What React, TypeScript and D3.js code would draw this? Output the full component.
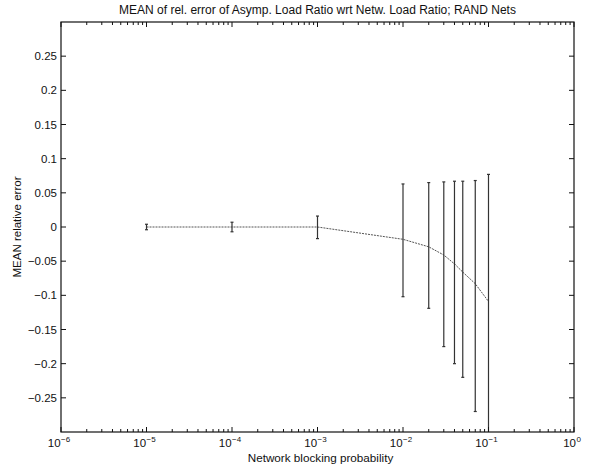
import React from "react";
import * as d3 from "d3";

const W = 589;
const H = 468;

const title = "MEAN of rel. error of Asymp. Load Ratio wrt Netw. Load Ratio; RAND Nets";
const xLabel = "Network blocking probability";
const yLabel = "MEAN relative error";

const xDomain = [1e-6, 1];
const yDomain = [-0.3, 0.3];
const xTickExponents = [-6, -5, -4, -3, -2, -1, 0];
const yTicks = [-0.25, -0.2, -0.15, -0.1, -0.05, 0, 0.05, 0.1, 0.15, 0.2, 0.25];
const yTickLabels = ["\u22120.25", "\u22120.2", "\u22120.15", "\u22120.1", "\u22120.05", "0", "0.05", "0.1", "0.15", "0.2", "0.25"];

const blocking = [1e-5, 1e-4, 1e-3, 1e-2, 2e-2, 3e-2, 4e-2, 5e-2, 7e-2, 1e-1];
const meanErr = [0, 0, 0, -0.018, -0.029, -0.041, -0.054, -0.066, -0.083, -0.109];
const upperErr = [0.004, 0.007, 0.016, 0.063, 0.065, 0.066, 0.067, 0.067, 0.068, 0.077];
const lowerErr = [-0.004, -0.007, -0.017, -0.102, -0.119, -0.175, -0.2, -0.22, -0.27, -0.32];

const FONT = "'Liberation Sans', Arial, Helvetica, sans-serif";

export default function App() {
  const left = 61, right = 574, top = 22, bottom = 432;
  const x = d3.scaleLog().domain(xDomain).range([left, right]);
  const y = d3.scaleLinear().domain(yDomain).range([bottom, top]);

  const line = d3
    .line<number>()
    .x((_, i) => x(blocking[i]))
    .y((d) => y(d));

  const minorTicks: number[] = [];
  for (let e = -6; e < 0; e++) {
    for (let m = 2; m <= 9; m++) minorTicks.push(m * Math.pow(10, e));
  }

  const major = 5;
  const minor = 3;
  const ink = "#111";

  return (
    <svg
      width={W}
      height={H}
      style={{ position: "absolute", left: 0, top: 0, background: "#fff" }}
      fontFamily={FONT}
    >
      <defs>
        <clipPath id="plotclip">
          <rect x={left} y={top} width={right - left} height={bottom - top} />
        </clipPath>
      </defs>
      <rect x={0} y={0} width={W} height={H} fill="#fff" />

      {/* title */}
      <text x={(left + right) / 2} y={14} textAnchor="middle" fontSize={12} fill={ink}>
        {title}
      </text>

      {/* data */}
      <g clipPath="url(#plotclip)">
        <path d={line(meanErr) || ""} fill="none" stroke="#555" strokeWidth={1} strokeDasharray="2,1" />
        {blocking.map((b, i) => {
          const cx = x(b);
          return (
            <g key={i} stroke="#333" strokeWidth={1.2}>
              <line x1={cx} x2={cx} y1={y(upperErr[i])} y2={y(lowerErr[i])} />
              <line x1={cx - 1.5} x2={cx + 1.5} y1={y(upperErr[i])} y2={y(upperErr[i])} />
              <line x1={cx - 1.5} x2={cx + 1.5} y1={y(lowerErr[i])} y2={y(lowerErr[i])} />
            </g>
          );
        })}
      </g>

      {/* box */}
      <rect x={left} y={top} width={right - left} height={bottom - top} fill="none" stroke={ink} strokeWidth={1.2} />

      {/* x ticks */}
      {xTickExponents.map((e) => {
        const px = x(Math.pow(10, e));
        return (
          <g key={"xt" + e}>
            <line x1={px} x2={px} y1={bottom} y2={bottom - major} stroke={ink} />
            <line x1={px} x2={px} y1={top} y2={top + major} stroke={ink} />
            <text x={px - 2} y={447} textAnchor="middle" fontSize={11.5} fill={ink}>
              10
              <tspan dx={0.5} dy={-5} fontSize={8}>
                {e === 0 ? "0" : "\u2212" + Math.abs(e)}
              </tspan>
            </text>
          </g>
        );
      })}
      {minorTicks.map((v, i) => {
        const px = x(v);
        return (
          <g key={"xm" + i} stroke={ink}>
            <line x1={px} x2={px} y1={bottom} y2={bottom - minor} />
            <line x1={px} x2={px} y1={top} y2={top + minor} />
          </g>
        );
      })}

      {/* y ticks */}
      {yTicks.map((v, i) => {
        const py = y(v);
        return (
          <g key={"yt" + i}>
            <line x1={left} x2={left + major} y1={py} y2={py} stroke={ink} />
            <line x1={right} x2={right - major} y1={py} y2={py} stroke={ink} />
            <text x={left - 4} y={py + 4} textAnchor="end" fontSize={11.5} fill={ink}>
              {yTickLabels[i]}
            </text>
          </g>
        );
      })}

      {/* axis labels */}
      <text x={(left + right) / 2 + 3} y={462} textAnchor="middle" fontSize={11.7} fill={ink}>
        {xLabel}
      </text>
      <text
        transform={`translate(21,${(top + bottom) / 2}) rotate(-90)`}
        textAnchor="middle"
        fontSize={11.5}
        fill={ink}
      >
        {yLabel}
      </text>
    </svg>
  );
}
